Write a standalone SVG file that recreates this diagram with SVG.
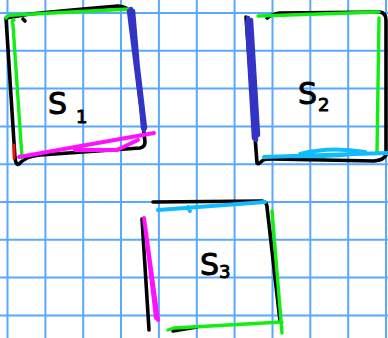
<svg xmlns="http://www.w3.org/2000/svg" width="388" height="338" viewBox="0 0 388 338">
<style>
.grid line{stroke:#5aa8ff;stroke-width:2}
.ink{fill:none;stroke-linecap:round;stroke-linejoin:round}
.k{stroke:#000;stroke-width:3.6}
.g{stroke:#11ee11;stroke-width:3.4}
.b{stroke:#3333c4;stroke-width:4.5}
.m{stroke:#ff11ff;stroke-width:4}
.c{stroke:#11bbff;stroke-width:4}
.r{stroke:#ee1111;stroke-width:3}
.lbl{font-family:"DejaVu Sans",sans-serif;fill:#000;stroke:#000;stroke-width:1;stroke-linejoin:round}
</style>
<rect width="388" height="338" fill="#fff"/>
<g class="grid" id="grid">
<line x1="7.5" y1="0" x2="7.5" y2="338"/>
<line x1="45.4" y1="0" x2="45.4" y2="338"/>
<line x1="83.2" y1="0" x2="83.2" y2="338"/>
<line x1="121" y1="0" x2="121" y2="338"/>
<line x1="158.9" y1="0" x2="158.9" y2="338"/>
<line x1="196.8" y1="0" x2="196.8" y2="338"/>
<line x1="234.6" y1="0" x2="234.6" y2="338"/>
<line x1="272.5" y1="0" x2="272.5" y2="338"/>
<line x1="310.3" y1="0" x2="310.3" y2="338"/>
<line x1="348.2" y1="0" x2="348.2" y2="338"/>
<line x1="386" y1="0" x2="386" y2="338"/>
<line x1="0" y1="13" x2="388" y2="13"/>
<line x1="0" y1="50.8" x2="388" y2="50.8"/>
<line x1="0" y1="88.6" x2="388" y2="88.6"/>
<line x1="0" y1="126.4" x2="388" y2="126.4"/>
<line x1="0" y1="164.2" x2="388" y2="164.2"/>
<line x1="0" y1="202" x2="388" y2="202"/>
<line x1="0" y1="239.8" x2="388" y2="239.8"/>
<line x1="0" y1="277.6" x2="388" y2="277.6"/>
<line x1="0" y1="315.4" x2="388" y2="315.4"/>
</g>
<g id="s1" class="ink">
<path class="k" d="M6,18 L15,158 Q16,166 19,164 Q26,156 40,155 L140,148 Q145,147 145,142 L130,12 Q128,7 118,6 Q70,10 30,14 L6,18"/>
<path class="k" d="M23,19 L25,21"/>
<path class="g" d="M6,18 Q7,15 14,15 L129,9"/>
<path class="g" d="M22,158 L13,25 Q11,20 14,20"/>
<path class="b" d="M129,11 L144,130 M131,9 L145,128 M133,11 L143,128"/>
<path class="m" d="M19,157 L154,133 M75,150 L117,150 L138,140"/>
<path class="r" d="M14,145 L14,158"/>
<text class="lbl" x="48" y="114" font-size="30">S</text>
<text class="lbl" x="76" y="123" font-size="18">1</text>
</g>
<g id="s2" class="ink">
<path class="k" d="M246,17 L257,163 Q258,165 262,161 Q264,159 272,159 L374,161 Q384,160 386,155 L386,20 Q386,13 380,12 L280,13 Q272,14 267,18"/>
<path class="g" d="M258,16 L379,12 M379,18 L377,153"/>
<path class="b" d="M248,18 L256,140 M251,20 L258,135 M247,22 L254,138"/>
<path class="c" d="M264,157 L387,153 M300,154 Q330,146 365,152 Q340,157 290,156"/>
<text class="lbl" x="298" y="104" font-size="30">S</text>
<text class="lbl" x="318" y="111" font-size="18">2</text>
</g>
<g id="s3" class="ink">
<path class="k" d="M153,202 L262,201 Q267,202 267,207 L280,321 M142,219 L149,330 M173,331 L197,327"/>
<path class="c" d="M158,210 L265,202 M188,207 L190,211"/>
<path class="g" d="M272,211 L282,333 M168,330 L174,328 L282,322"/>
<path class="m" d="M144,218 L158,320 M145,225 L156,318"/>
<text class="lbl" x="200" y="275" font-size="30">S</text>
<text class="lbl" x="219" y="278" font-size="18">3</text>
</g>
</svg>
